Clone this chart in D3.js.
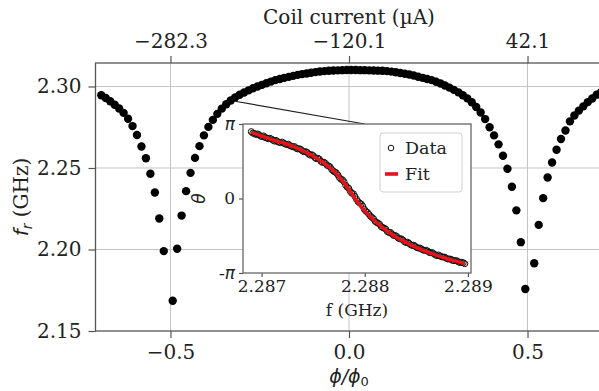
<!DOCTYPE html>
<html>
<head>
<meta charset="utf-8">
<script src="https://cdn.jsdelivr.net/npm/d3@7"></script>
<style>
  body { margin: 0; background: #fff; }
  svg { display: block; font-family: "DejaVu Serif", serif; }
  .math { font-family: "DejaVu Sans", sans-serif; font-style: italic; }
</style>
</head>
<body>
<svg id="chart" width="599" height="391"></svg>
<script>
// flux sweep: phi/phi0 vs resonance frequency f_r (GHz)
const phi = [
  -0.6938, -0.6813, -0.6688, -0.6563, -0.6438, -0.6313, -0.6188, -0.6063, -0.5938, -0.5813,
  -0.5688, -0.5563, -0.5438, -0.5313, -0.5188,
  -0.4938, -0.4813, -0.4688, -0.4563, -0.4438, -0.4313, -0.4188, -0.4063, -0.3938, -0.3813,
  -0.3688, -0.3563, -0.3438, -0.3313, -0.3188, -0.3063, -0.2938, -0.2813, -0.2688, -0.2563,
  -0.2438, -0.2313, -0.2188, -0.2063, -0.1938, -0.1813, -0.1688, -0.1563, -0.1438, -0.1313,
  -0.1188, -0.1063, -0.0938, -0.0813, -0.0688, -0.0563, -0.0438, -0.0313, -0.0188, -0.0063,
  0.0063, 0.0188, 0.0313, 0.0438, 0.0563, 0.0688, 0.0813, 0.0938, 0.1063, 0.1188,
  0.1313, 0.1438, 0.1563, 0.1688, 0.1813, 0.1938, 0.2063, 0.2188, 0.2313, 0.2438,
  0.2563, 0.2688, 0.2813, 0.2938, 0.3063, 0.3188, 0.3313, 0.3438, 0.3563, 0.3688,
  0.3813, 0.3938, 0.4063, 0.4188, 0.4313, 0.4438, 0.4563, 0.4688, 0.4813, 0.4938,
  0.5188, 0.5313, 0.5438, 0.5563, 0.5688, 0.5813, 0.5938, 0.6063, 0.6188, 0.6313,
  0.6438, 0.6563, 0.6688, 0.6813, 0.6938, 0.7063
];
const fr = [
  2.2946, 2.2929, 2.2909, 2.2888, 2.2865, 2.2838, 2.2802, 2.2757, 2.2702, 2.2632,
  2.2560, 2.2465, 2.2350, 2.2190, 2.1990,
  2.1686, 2.2005, 2.2208, 2.2358, 2.2470, 2.2562, 2.2634, 2.2700, 2.2752, 2.2795,
  2.2832, 2.2864, 2.2891, 2.2914, 2.2933, 2.2949, 2.2963, 2.2976, 2.2989, 2.3000,
  2.3010, 2.3020, 2.3030, 2.3039, 2.3046, 2.3053, 2.3059, 2.3065, 2.3071, 2.3076,
  2.3080, 2.3084, 2.3088, 2.3092, 2.3094, 2.3096, 2.3098, 2.3099, 2.3100, 2.3101,
  2.3101, 2.3101, 2.3100, 2.3100, 2.3099, 2.3098, 2.3097, 2.3096, 2.3094, 2.3091,
  2.3087, 2.3083, 2.3078, 2.3073, 2.3067, 2.3060, 2.3053, 2.3046, 2.3039, 2.3029,
  2.3018, 2.3006, 2.2993, 2.2979, 2.2964, 2.2946, 2.2927, 2.2903, 2.2874, 2.2840,
  2.2800, 2.2750, 2.2700, 2.2645, 2.2575, 2.2495, 2.2385, 2.2240, 2.2045, 2.1758,
  2.1916, 2.2151, 2.2315, 2.2442, 2.2534, 2.2612, 2.2678, 2.2730, 2.2786, 2.2822,
  2.2852, 2.2878, 2.2904, 2.2926, 2.2950, 2.2966
];
const xTicks = [-0.5, 0.0, 0.5];
const yTicks = [2.15, 2.20, 2.25, 2.30];
const currentTicks = [-282.3, -120.1, 42.1];

// inset: phase of one resonance (the marked point), two interleaved point sets
const insetF = [
  2.28690, 2.28693, 2.28696, 2.28699, 2.28702, 2.28705, 2.28708, 2.28711, 2.28714, 2.28717,
  2.28720, 2.28723, 2.28726, 2.28729, 2.28732, 2.28735, 2.28738, 2.28741, 2.28744, 2.28747,
  2.28750, 2.28753, 2.28756, 2.28759, 2.28762, 2.28765, 2.28768, 2.28771, 2.28774, 2.28777,
  2.28780, 2.28783, 2.28786, 2.28789, 2.28792, 2.28795, 2.28798, 2.28801, 2.28804, 2.28807,
  2.28810, 2.28813, 2.28816, 2.28819, 2.28822, 2.28825, 2.28828, 2.28831, 2.28834, 2.28837,
  2.28840, 2.28843, 2.28846, 2.28849, 2.28852, 2.28855, 2.28858, 2.28861, 2.28864, 2.28867,
  2.28870, 2.28873, 2.28876, 2.28879, 2.28882, 2.28885, 2.28888, 2.28891, 2.28894, 2.28897
];
const insetTheta = [
  2.82, 2.74, 2.72, 2.63, 2.64, 2.55, 2.54, 2.46, 2.45, 2.37,
  2.38, 2.30, 2.29, 2.20, 2.19, 2.09, 2.07, 1.97, 1.95, 1.83,
  1.81, 1.68, 1.66, 1.52, 1.48, 1.37, 1.22, 1.12, 0.99, 0.81,
  0.70, 0.48, 0.30, 0.20, -0.03, -0.19, -0.32, -0.53, -0.66, -0.80,
  -0.96, -1.04, -1.19, -1.25, -1.40, -1.43, -1.56, -1.60, -1.70, -1.75,
  -1.86, -1.89, -1.98, -2.02, -2.09, -2.13, -2.19, -2.22, -2.29, -2.33,
  -2.41, -2.42, -2.47, -2.52, -2.55, -2.61, -2.62, -2.68, -2.69, -2.75
];
const insetF2 = [
  2.286915, 2.286945, 2.286975, 2.287005, 2.287035, 2.287065, 2.287095, 2.287125, 2.287155, 2.287185,
  2.287215, 2.287245, 2.287275, 2.287305, 2.287335, 2.287365, 2.287395, 2.287425, 2.287455, 2.287485,
  2.287515, 2.287545, 2.287575, 2.287605, 2.287635, 2.287665, 2.287695, 2.287725, 2.287755, 2.287785,
  2.287815, 2.287845, 2.287875, 2.287905, 2.287935, 2.287965, 2.287995, 2.288025, 2.288055, 2.288085,
  2.288115, 2.288145, 2.288175, 2.288205, 2.288235, 2.288265, 2.288295, 2.288325, 2.288355, 2.288385,
  2.288415, 2.288445, 2.288475, 2.288505, 2.288535, 2.288565, 2.288595, 2.288625, 2.288655, 2.288685,
  2.288715, 2.288745, 2.288775, 2.288805, 2.288835, 2.288865, 2.288895, 2.288925, 2.288955
];
const insetTheta2 = [
  2.76, 2.70, 2.69, 2.61, 2.57, 2.52, 2.51, 2.42, 2.40, 2.35,
  2.33, 2.27, 2.23, 2.18, 2.12, 2.10, 2.01, 1.98, 1.88, 1.85,
  1.73, 1.70, 1.57, 1.53, 1.40, 1.33, 1.16, 1.08, 0.88, 0.79,
  0.56, 0.43, 0.22, 0.09, -0.13, -0.23, -0.45, -0.58, -0.74, -0.85,
  -1.01, -1.09, -1.23, -1.30, -1.43, -1.50, -1.56, -1.67, -1.70, -1.82,
  -1.84, -1.95, -1.97, -2.07, -2.09, -2.17, -2.18, -2.27, -2.28, -2.38,
  -2.38, -2.46, -2.47, -2.55, -2.56, -2.62, -2.63, -2.70, -2.71
];
const fitF = [
  2.28690, 2.28700, 2.28710, 2.28720, 2.28730, 2.28740, 2.28750, 2.28760, 2.28770, 2.28780,
  2.28790, 2.28800, 2.28810, 2.28820, 2.28830, 2.28840, 2.28850, 2.28860, 2.28870, 2.28880,
  2.28890, 2.28897
];
const fitTheta = [
  2.80, 2.64, 2.49, 2.36, 2.21, 2.02, 1.79, 1.52, 1.16, 0.66,
  0.03, -0.52, -0.95, -1.32, -1.61, -1.85, -2.06, -2.24, -2.40, -2.54,
  -2.66, -2.74
];
const insetXTicks = [2.287, 2.288, 2.289];
const insetYTicks = [-Math.PI, 0, Math.PI];
const insetYLabels = ["-π", "0", "π"];
const legendLabels = ["Data", "Fit"];

const markedPhi = -0.3313;
const markedInsetF = 2.2880;

const $svg = d3.select("#chart");
const box = { left: 95.5, right: 602.5, top: 63, bottom: 331 };
const ibox = { left: 243, right: 471, top: 124, bottom: 273 };

const x = d3.scaleLinear().domain([-0.71, 0.71]).range([box.left, box.right]);
const y = d3.scaleLinear().domain([2.15, 2.3144]).range([box.bottom, box.top]);

// top axis: coil current, linear in flux
const perPhi = (currentTicks[2] - currentTicks[0]) / (xTicks[2] - xTicks[0]);
const xTop = d3.scaleLinear()
  .domain(x.domain().map(p => currentTicks[1] + p * perPhi))
  .range(x.range());

const xi = d3.scaleLinear().domain([2.28682, 2.28903]).range([ibox.left, ibox.right]);
const yi = d3.scaleLinear().domain([-Math.PI, Math.PI]).range([ibox.bottom, ibox.top]);

function styleAxis(g, size) {
  g.select(".domain").remove();
  g.selectAll(".tick line").attr("stroke", "#555").attr("stroke-width", 1.2);
  g.selectAll(".tick text").attr("fill", "#222").style("font-size", size + "px")
    .style("font-family", "'DejaVu Serif', serif");
}

function drawFrame(b, color) {
  $svg.append("rect")
    .attr("x", b.left).attr("y", b.top)
    .attr("width", b.right - b.left).attr("height", b.bottom - b.top)
    .attr("fill", "none").attr("stroke", color).attr("stroke-width", 1.3);
}

// grid
const grid = $svg.append("g").attr("class", "grid");
grid.selectAll("line.gx").data(xTicks).enter().append("line")
  .attr("x1", d => x(d)).attr("x2", d => x(d))
  .attr("y1", box.top).attr("y2", box.bottom)
  .attr("stroke", "#c4c4c4").attr("stroke-width", 1);
grid.selectAll("line.gy").data(yTicks.slice(1)).enter().append("line")
  .attr("x1", box.left).attr("x2", box.right)
  .attr("y1", d => y(d)).attr("y2", d => y(d))
  .attr("stroke", "#c4c4c4").attr("stroke-width", 1);

// connector from marked point to inset
const mi = phi.indexOf(markedPhi);
$svg.append("line")
  .attr("x1", x(phi[mi])).attr("y1", y(fr[mi]))
  .attr("x2", xi(markedInsetF)).attr("y2", yi(Math.PI))
  .attr("stroke", "#222").attr("stroke-width", 1.2);

// main points
$svg.append("clipPath").attr("id", "mainclip").append("rect")
  .attr("x", box.left).attr("y", box.top)
  .attr("width", box.right - box.left).attr("height", box.bottom - box.top);
$svg.append("g").attr("clip-path", "url(#mainclip)")
  .selectAll("circle").data(phi).enter().append("circle")
  .attr("cx", d => x(d))
  .attr("cy", (d, i) => y(fr[i]))
  .attr("r", 4.2)
  .attr("fill", "#000");

// main axes
$svg.append("g").attr("transform", `translate(0,${box.bottom})`)
  .call(d3.axisBottom(x).tickValues(xTicks).tickFormat(d3.format(".1f")).tickSize(7).tickPadding(7))
  .call(g => styleAxis(g, 20));
$svg.append("g").attr("transform", `translate(0,${box.top})`)
  .call(d3.axisTop(xTop).tickValues(currentTicks).tickFormat(d3.format(".1f")).tickSize(7).tickPadding(8))
  .call(g => styleAxis(g, 20));
$svg.append("g").attr("transform", `translate(${box.left},0)`)
  .call(d3.axisLeft(y).tickValues(yTicks).tickFormat(d3.format(".2f")).tickSize(7).tickPadding(7))
  .call(g => styleAxis(g, 20));
drawFrame(box, "#555");

// axis labels
$svg.append("text").attr("x", (box.left + box.right) / 2).attr("y", 24)
  .attr("text-anchor", "middle").style("font-size", "20px").attr("fill", "#222")
  .text("Coil current (µA)");

const xl = $svg.append("text").attr("x", (box.left + box.right) / 2).attr("y", 383)
  .attr("text-anchor", "middle").style("font-size", "19px").attr("fill", "#222");
xl.append("tspan").attr("class", "math").text("ϕ/ϕ");
xl.append("tspan").attr("class", "math").style("font-style", "normal")
  .style("font-size", "13px").attr("dy", 3).text("0");

const yl = $svg.append("text")
  .attr("transform", `translate(28,${(box.top + box.bottom) / 2}) rotate(-90)`)
  .attr("text-anchor", "middle").style("font-size", "20px").attr("fill", "#222");
yl.append("tspan").attr("class", "math").text("f");
yl.append("tspan").attr("class", "math").style("font-size", "14px").attr("dy", 4).text("r");
yl.append("tspan").attr("dy", -4).text(" (GHz)");

// inset
$svg.append("rect")
  .attr("x", ibox.left).attr("y", ibox.top)
  .attr("width", ibox.right - ibox.left).attr("height", ibox.bottom - ibox.top)
  .attr("fill", "#fff");
const dots = $svg.append("g").attr("fill", "none").attr("stroke", "#111").attr("stroke-width", 1);
dots.selectAll("circle.a").data(insetF).enter().append("circle")
  .attr("cx", d => xi(d))
  .attr("cy", (d, i) => yi(insetTheta[i]))
  .attr("r", 3);
dots.selectAll("circle.b").data(insetF2).enter().append("circle")
  .attr("cx", d => xi(d))
  .attr("cy", (d, i) => yi(insetTheta2[i]))
  .attr("r", 3);
$svg.append("path")
  .datum(fitF)
  .attr("d", d3.line().x(d => xi(d)).y((d, i) => yi(fitTheta[i])).curve(d3.curveMonotoneX))
  .attr("fill", "none").attr("stroke", "#e3141a").attr("stroke-width", 3.6);

$svg.append("g").attr("transform", `translate(0,${ibox.bottom})`)
  .call(d3.axisBottom(xi).tickValues(insetXTicks).tickFormat(d3.format(".3f")).tickSize(4).tickPadding(3))
  .call(g => styleAxis(g, 17));
$svg.append("g").attr("transform", `translate(${ibox.left},0)`)
  .call(d3.axisLeft(yi).tickValues(insetYTicks).tickFormat((d, i) => insetYLabels[i]).tickSize(4).tickPadding(4))
  .call(g => styleAxis(g, 17))
  .call(g => g.selectAll(".tick text").filter((d, i) => i !== 1)
    .style("font-family", "'DejaVu Sans', sans-serif").style("font-style", "italic"));
drawFrame(ibox, "#666");

$svg.append("text").attr("x", (ibox.left + ibox.right) / 2).attr("y", 316)
  .attr("text-anchor", "middle").style("font-size", "17px").attr("fill", "#222")
  .text("f (GHz)");
$svg.append("text")
  .attr("transform", `translate(205,${yi(0)}) rotate(-90)`)
  .attr("text-anchor", "middle").attr("class", "math")
  .style("font-size", "17px").attr("fill", "#222").text("θ");

// legend
const lg = $svg.append("g").attr("transform", "translate(380,133)");
lg.append("rect").attr("width", 82).attr("height", 59).attr("rx", 3)
  .attr("fill", "#fff").attr("fill-opacity", 0.8)
  .attr("stroke", "#d0d0d0").attr("stroke-width", 1);
lg.append("circle").attr("cx", 11).attr("cy", 15).attr("r", 2.8)
  .attr("fill", "none").attr("stroke", "#111").attr("stroke-width", 1);
lg.append("line").attr("x1", 5).attr("x2", 18).attr("y1", 41).attr("y2", 41)
  .attr("stroke", "#e3141a").attr("stroke-width", 3.6);
lg.selectAll("text").data(legendLabels).enter().append("text")
  .attr("x", 25).attr("y", (d, i) => 21 + i * 26)
  .style("font-size", "17.5px").attr("fill", "#222")
  .text(d => d);
</script>
</body>
</html>
